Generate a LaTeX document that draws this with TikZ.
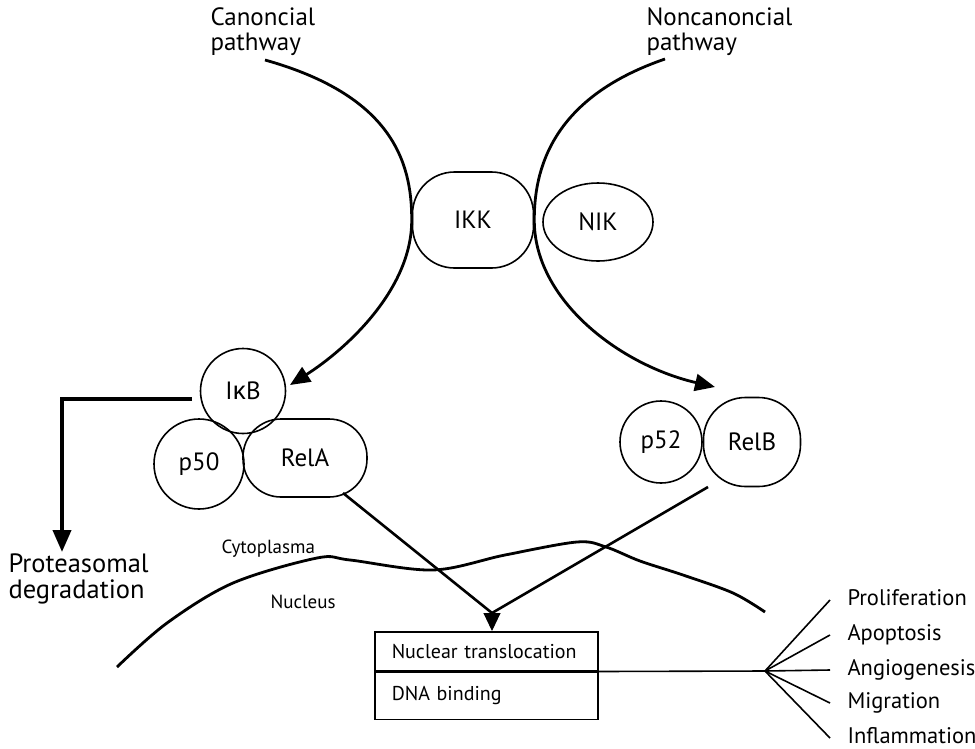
\documentclass[tikz,border=0pt]{standalone}
\usepackage{fontspec}
\setmainfont{PT Sans}
\newfontfamily\kappafont{Noto Sans}
\usetikzlibrary{arrows.meta,shapes.geometric,calc}

\begin{document}
\begin{tikzpicture}[x=1pt,y=-1pt]

	\tikzstyle protein=[draw, line width=1.6pt, inner sep=0pt, font=\fontsize{25}{27}\selectfont];
	\tikzstyle pathway label=[anchor=base west, align=left, font=\fontsize{25}{25}\selectfont];
	\tikzstyle pathway lines=[line width=2.8pt, -{Triangle[length=20pt,width=17pt]}];
	\tikzstyle degradation lines=[line width=4pt, -{Triangle[length=22pt,width=18pt]}];
	\tikzstyle translocation lines=[line width=2.6pt];
	\tikzstyle membrane lines=[line width=2.8pt, line join=round];
	\tikzstyle compartment=[anchor=base west, font=\fontsize{19}{21}\selectfont];
	\tikzstyle box part=[draw, line width=1.5pt, anchor=north west, inner xsep=17pt, inner ysep=0pt,
		text width=189pt, align=left, font=\fontsize{20}{22}\selectfont];
	\tikzstyle effect=[anchor=base west, font=\fontsize{22.5}{24}\selectfont];
	\tikzstyle fan lines=[line width=1.6pt];

	\useasboundingbox (0,0) rectangle (975,748);

	\node[pathway label] (canon) at (207,50) {Canoncial\\pathway};
	\node[pathway label] (noncanon) at (643,50) {Noncanoncial\\pathway};

	\node[protein, rectangle, rounded corners=42pt, minimum width=121pt, minimum height=96pt] (ikk) at (473,220) {IKK};
	\node[protein, ellipse, minimum width=110pt, minimum height=78pt] (nik) at (598,222) {NIK};

	\node[protein, circle, minimum size=85pt] (ikb) at (243,391) {I{\kappafont κ}B};
	\node[protein, circle, minimum size=90pt] (p50) at (199,464) {p50};
	\node[protein, rectangle, rounded corners=38pt, minimum width=124pt, minimum height=78pt] (rela) at (305,458) {RelA};

	\node[protein, circle, minimum size=82pt] (p52) at (661,442) {p52};
	\node[protein, rectangle, rounded corners=42pt, minimum width=97pt, minimum height=89pt] (relb) at (752,442) {RelB};

	\coordinate (canstart) at (265,60);
	\coordinate (canend) at (290,385);
	\coordinate (noncanstart) at (665,59);
	\coordinate (noncanend) at (715,387);
	\draw[pathway lines] (canstart) .. controls (390,95) and (412,160) .. (ikk.west)
		.. controls (412,290) and (345,350) .. (canend);
	\draw[pathway lines] (noncanstart) .. controls (560,95) and (534,160) .. (ikk.east)
		.. controls (534,300) and (620,365) .. (noncanend);

	% degradation of IkB
	\node[pathway label, font=\fontsize{26.5}{26}\selectfont] (degr) at (5,598) {Proteasomal\\degradation};
	\coordinate (degstart) at (192,399);
	\coordinate (degend) at (62,552);
	\draw[degradation lines] (degstart) -| (degend);

	\draw[membrane lines] plot[smooth, tension=0.55] coordinates {(117,667) (167,623) (233,583) (317,558)
		(350,560) (433,570) (505,555) (577,542) (606,547) (640,561) (683,575) (733,593) (765,612)};
	\node[compartment] (cyto) at (218,553) {Cytoplasma};
	\node[compartment] (nucl) at (267,608) {Nucleus};

	\node[box part, minimum height=39pt] (transl) at (374,631) {Nuclear translocation};
	\node[box part, minimum height=47pt] (dnabind) at (transl.south west) {DNA binding};

	\coordinate (relaout) at (343,493);
	\coordinate (relbout) at (708,487);
	\coordinate (merge) at (492,613);
	\draw[translocation lines] (relaout) -- (merge) -- (relbout);
	\draw[line width=1pt, -{Triangle[length=18pt,width=17pt]}] (merge) -- (merge |- transl.north);

	\coordinate (hub) at (765,671);
	\draw[fan lines] (transl.south east) -- (hub);
	\foreach \name/\txt/\yy in {prol/Proliferation/605,apop/Apoptosis/640,angi/Angiogenesis/675,migr/Migration/708,infl/Inflammation/743}
	{
		\node[effect] (\name) at (844,\yy) {\txt};
		\draw[fan lines] (hub) -- ($(\name.base west)+(-14,-5)$);
	}

\end{tikzpicture}
\end{document}
